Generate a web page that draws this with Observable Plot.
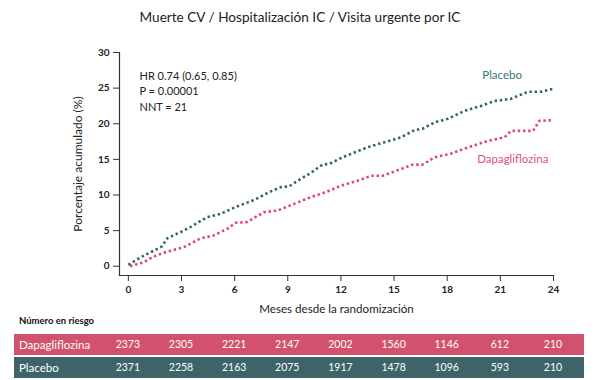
<!DOCTYPE html>
<html><head><meta charset="utf-8">
<script src="https://cdn.jsdelivr.net/npm/d3@7"></script>
<script src="https://cdn.jsdelivr.net/npm/@observablehq/plot@0.6"></script>
<style>
body{margin:0;background:#fff;font-family:Lato,sans-serif;}
#wrap{position:relative;width:600px;height:380px;overflow:hidden;background:#fff}
#title{position:absolute;left:0;top:9px;width:600px;text-align:center;font-size:13.6px;color:#222;}
#plot{position:absolute;left:0;top:36px;}
.risk-title{position:absolute;left:19px;top:315px;font-size:9.5px;font-weight:bold;color:#111;}
.row{position:absolute;left:14px;width:570px;height:21.5px;}
.row .lab{position:absolute;left:5px;top:0;line-height:21.5px;font-size:11.5px;color:#fff;}
.row .num{position:absolute;top:0;line-height:21.5px;font-size:10.5px;color:#fff;transform:translateX(-50%);}
</style></head><body><div id="wrap">
<div id="title"></div>
<div id="plot"></div>
</div>
<script>
const titleText = "Muerte CV / Hospitalización IC / Visita urgente por IC";
const xLabel = "Meses desde la randomización";
const yLabel = "Porcentaje acumulado (%)";
const statsLines = ["HR 0.74 (0.65, 0.85)", "P = 0.00001", "NNT = 21"];
const seriesNames = ["Dapagliflozina", "Placebo"];
const riskTitle = "Número en riesgo";

const placeboMonths = [0, 0.77, 1.53, 1.9, 2.19, 3.04, 3.5, 4.45, 5.2, 6.05, 7.1, 7.95, 8.6, 9.07, 9.73, 10.3, 10.96, 11.34, 12.1, 13.5, 14.45, 15.4, 16.15, 16.6, 17.3, 18.04, 18.98, 19.9, 20.67, 21.6, 22.56, 23.3, 23.98];
const placeboValues = [0.2, 1.36, 2.3, 2.8, 3.9, 4.9, 5.5, 6.9, 7.35, 8.3, 9.3, 10.4, 11.1, 11.2, 12.25, 13.1, 14.26, 14.36, 15.3, 16.7, 17.4, 18.1, 19.1, 19.3, 20.2, 20.7, 21.8, 22.5, 23.2, 23.5, 24.5, 24.5, 24.9];

const dapaMonths = [0.1, 0.87, 1.34, 2.0, 3.13, 4.07, 4.8, 5.58, 6.05, 6.7, 7.66, 8.4, 9.36, 10.3, 11.15, 12.0, 12.94, 13.7, 14.36, 15.4, 16.05, 16.6, 17.3, 18.2, 19.2, 20.3, 21.24, 21.6, 22.85, 23.2, 23.98];
const dapaValues = [0, 0.56, 1.26, 1.9, 2.67, 3.9, 4.3, 5.24, 6.1, 6.2, 7.6, 7.8, 8.75, 9.7, 10.4, 11.3, 12.0, 12.7, 12.7, 13.66, 14.26, 14.26, 15.3, 15.8, 16.7, 17.6, 18.1, 19.0, 19.0, 20.4, 20.5];

const xTicks = [0, 3, 6, 9, 12, 15, 18, 21, 24];
const yTicks = [0, 5, 10, 15, 20, 25, 30];
const atRiskDapa = [2373, 2305, 2221, 2147, 2002, 1560, 1146, 612, 210];
const atRiskPlacebo = [2371, 2258, 2163, 2075, 1917, 1478, 1096, 593, 210];

const colPlacebo = "#2f6562";
const colDapa = "#e0456f";
const rowDapa = "#d2526e";
const rowPlacebo = "#3d6468";

const placebo = placeboMonths.map((m, i) => ({m, v: placeboValues[i]}));
const dapa = dapaMonths.map((m, i) => ({m, v: dapaValues[i]}));

document.getElementById("title").textContent = titleText;

const plot = Plot.plot({
  width: 600,
  height: 284,
  marginLeft: 119,
  marginRight: 47,
  marginTop: 16,
  marginBottom: 45,
  style: {fontFamily: "Lato, sans-serif", color: "#222", background: "transparent", overflow: "visible"},
  x: {domain: [-0.5, 24]},
  y: {domain: [-1.3, 30]},
  marks: [
    Plot.frame({anchor: "left", stroke: "#333", strokeWidth: 1.2}),
    Plot.frame({anchor: "bottom", stroke: "#333", strokeWidth: 1.2}),
    Plot.axisX({ticks: xTicks, tickSize: 6, tickPadding: 4, fontSize: 10, fontWeight: "bold", stroke: "#333", label: null}),
    Plot.axisY({ticks: yTicks, tickSize: 6, tickPadding: 4, fontSize: 10, fontWeight: "bold", stroke: "#333", label: null}),
    Plot.text([xLabel], {frameAnchor: "bottom", dy: 37, fontSize: 11.6, fill: "#222"}),
    Plot.text([yLabel], {frameAnchor: "left", textAnchor: "middle", dx: -41, rotate: -90, fontSize: 12, fill: "#222"}),
    Plot.line(placebo, {x: "m", y: "v", stroke: colPlacebo, strokeWidth: 2.6, strokeDasharray: "2.4,2.8", strokeLinecap: "butt", strokeLinejoin: "miter", curve: "linear"}),
    Plot.line(dapa, {x: "m", y: "v", stroke: colDapa, strokeWidth: 2.6, strokeDasharray: "2.4,2.8", strokeLinecap: "butt", strokeLinejoin: "miter", curve: "linear"}),
    Plot.text([statsLines.join("\n")], {frameAnchor: "top-left", dx: 20, dy: 17, lineAnchor: "top", lineHeight: 1.38, fontSize: 11, fill: "#222", textAnchor: "start"}),
    Plot.text([seriesNames[1]], {x: () => 21.1, y: () => 26.75, fill: "#3a7673", fontSize: 11.5}),
    Plot.text([seriesNames[0]], {x: () => 21.7, y: () => 14.97, fill: "#e0507a", fontSize: 11.5})
  ]
});
document.getElementById("plot").appendChild(plot);

const xs = plot.scale("x");
const wrap = document.getElementById("wrap");
const rt = document.createElement("div");
rt.className = "risk-title"; rt.textContent = riskTitle; wrap.appendChild(rt);

function addRow(name, vals, color, top) {
  const r = document.createElement("div");
  r.className = "row"; r.style.top = top + "px"; r.style.background = color;
  const l = document.createElement("div"); l.className = "lab"; l.textContent = name; r.appendChild(l);
  vals.forEach((v, i) => {
    const n = document.createElement("div"); n.className = "num"; n.textContent = v;
    n.style.left = (xs.apply(xTicks[i]) - 14) + "px";
    r.appendChild(n);
  });
  wrap.appendChild(r);
}
addRow(seriesNames[0], atRiskDapa, rowDapa, 333.5);
addRow(seriesNames[1], atRiskPlacebo, rowPlacebo, 356.5);
</script>
</body></html>
